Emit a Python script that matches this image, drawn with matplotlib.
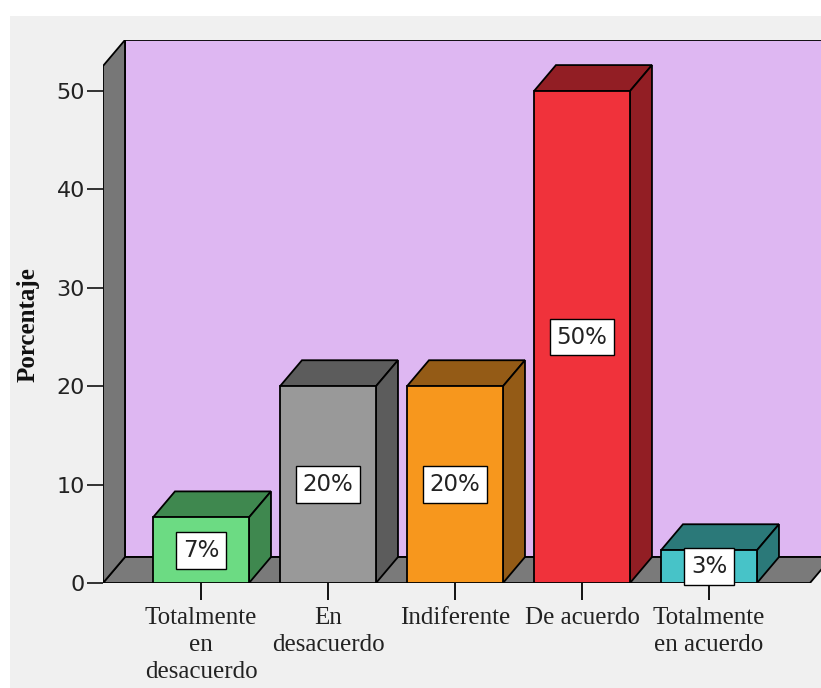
import matplotlib.pyplot as plt
from matplotlib.patches import Polygon, Rectangle

categories = ["Totalmente\nen\ndesacuerdo", "En\ndesacuerdo", "Indiferente",
              "De acuerdo", "Totalmente\nen acuerdo"]
percentages = [6.67, 20.0, 20.0, 50.0, 3.33]
front_colors = ["#6CDB83", "#999999", "#F7971D", "#F0323B", "#47C3C8"]
shade_colors = ["#3F884F", "#5C5C5C", "#945B16", "#921E24", "#2B7979"]

fig = plt.figure(figsize=(8.21, 6.88), dpi=100)
fig.patch.set_facecolor("white")
# grey canvas inside a thin white margin
fig.patches.append(Rectangle((10 / 821, 0), 1, 1 - 16 / 688,
                             transform=fig.transFigure, facecolor="#F0F0F0",
                             edgecolor="none", zorder=-10))

ax = fig.add_axes([103 / 821, 105 / 688, 718 / 821, 543 / 688])
ax.patch.set_visible(False)
for s in ax.spines.values():
    s.set_visible(False)

x0, x1 = -0.7717, 4.882
ytop = 55.19
dx, dy = 0.173, 2.64
width = 0.756
floor_end = 4.795
ax.set_xlim(x0, x1)
ax.set_ylim(0, ytop)

edge = dict(edgecolor="black", linewidth=1.3, joinstyle="miter")

# back wall, floor, left wall
ax.add_patch(Polygon([(x0 + dx, dy), (x1 + 1, dy), (x1 + 1, ytop), (x0 + dx, ytop)],
                     closed=True, facecolor="#DEB7F2", zorder=1, **edge))
ax.add_patch(Polygon([(x0, 0), (floor_end, 0), (floor_end + dx, dy), (x0 + dx, dy)],
                     closed=True, facecolor="#7A7A7A", zorder=2, **edge))
ax.add_patch(Polygon([(x0, 0), (x0 + dx, dy), (x0 + dx, ytop), (x0, ytop - dy)],
                     closed=True, facecolor="#777777", zorder=2, **edge))

xs = list(range(len(categories)))
bars = ax.bar(xs, percentages, width=width, color=front_colors, zorder=5, **edge)
for x, v, shade in zip(xs, percentages, shade_colors):
    l, r = x - width / 2, x + width / 2
    ax.add_patch(Polygon([(l, v), (l + dx, v + dy), (r + dx, v + dy), (r, v)],
                         closed=True, facecolor=shade, zorder=4, **edge))
    ax.add_patch(Polygon([(r, 0), (r + dx, dy), (r + dx, v + dy), (r, v)],
                         closed=True, facecolor=shade, zorder=4, **edge))
    ax.text(x, v / 2, f"{v:.0f}%", ha="center", va="center", fontsize=16.5,
            family="DejaVu Sans", color="#222222", zorder=10,
            bbox=dict(boxstyle="square,pad=0.3", facecolor="white",
                      edgecolor="black", linewidth=1.0))

ax.set_yticks([0, 10, 20, 30, 40, 50])
ax.tick_params(axis="y", length=11.5, width=1.3, pad=1.5, labelsize=16,
               colors="#222222")
for lab in ax.get_yticklabels():
    lab.set_family("DejaVu Sans")

ax.set_xticks(xs)
ax.set_xticklabels(categories, family="Liberation Serif", fontsize=18,
                   linespacing=1.3, color="#222222")
ax.tick_params(axis="x", length=12, width=1.3, pad=5)

fig.text(28 / 821, 1 - 325 / 688, "Porcentaje", rotation=90, ha="center",
         va="center", family="Liberation Serif", fontweight="bold",
         fontsize=18, color="#111111")

fig.savefig("out.png", dpi=100, facecolor="white")
